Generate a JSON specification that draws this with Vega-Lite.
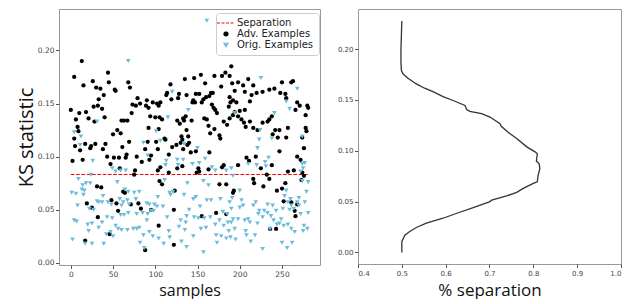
{
"$schema":"https://vega.github.io/schema/vega-lite/v6.json",
"padding":{"left":15,"top":8,"right":0,"bottom":0},
"spacing":15,
"config":{"view":{"stroke":"#999"},"font":"DejaVu Sans",
"axis":{"grid":false,"domain":false,"tickColor":"#555","tickSize":3.5,"labelColor":"#444","labelFont":"DejaVu Sans","labelFontSize":7.5,"labelPadding":1.5,"titleFont":"Open Sans","titleFontWeight":"normal","titleColor":"#111"}},
"datasets":{
"adv":[{"x":13,"y":0.190},{"x":4,"y":0.175},{"x":44,"y":0.179},{"x":15,"y":0.167},{"x":26,"y":0.171},{"x":30,"y":0.165},{"x":35,"y":0.164},{"x":45,"y":0.170},{"x":39,"y":0.158},{"x":52,"y":0.163},{"x":53,"y":0.162},{"x":68,"y":0.170},{"x":70,"y":0.165},{"x":33,"y":0.154},{"x":27,"y":0.147},{"x":32,"y":0.148},{"x":37,"y":0.145},{"x":0,"y":0.144},{"x":10,"y":0.141},{"x":18,"y":0.142},{"x":21,"y":0.136},{"x":6,"y":0.135},{"x":28,"y":0.133},{"x":40,"y":0.137},{"x":60,"y":0.134},{"x":63,"y":0.134},{"x":67,"y":0.134},{"x":72,"y":0.141},{"x":77,"y":0.148},{"x":82,"y":0.150},{"x":79,"y":0.155},{"x":73,"y":0.149},{"x":90,"y":0.153},{"x":89,"y":0.148},{"x":8,"y":0.128},{"x":9,"y":0.124},{"x":4,"y":0.117},{"x":55,"y":0.125},{"x":50,"y":0.121},{"x":59,"y":0.122},{"x":5,"y":0.110},{"x":11,"y":0.106},{"x":17,"y":0.112},{"x":23,"y":0.108},{"x":24,"y":0.110},{"x":29,"y":0.112},{"x":38,"y":0.107},{"x":41,"y":0.112},{"x":61,"y":0.109},{"x":69,"y":0.114},{"x":91,"y":0.114},{"x":88,"y":0.107},
{"x":2,"y":0.096},{"x":14,"y":0.097},{"x":43,"y":0.100},{"x":51,"y":0.099},{"x":57,"y":0.099},{"x":66,"y":0.102},{"x":65,"y":0.099},{"x":78,"y":0.100},{"x":84,"y":0.095},{"x":47,"y":0.093},{"x":58,"y":0.089},{"x":76,"y":0.087},{"x":75,"y":0.083},{"x":31,"y":0.072},{"x":36,"y":0.071},{"x":62,"y":0.067},{"x":64,"y":0.066},{"x":19,"y":0.056},{"x":48,"y":0.059},{"x":25,"y":0.052},{"x":54,"y":0.056},{"x":56,"y":0.049},{"x":71,"y":0.055},{"x":80,"y":0.056},{"x":83,"y":0.051},{"x":32,"y":0.043},{"x":46,"y":0.027},{"x":17,"y":0.021},{"x":88,"y":0.012},
{"x":190,"y":0.185},{"x":183,"y":0.179},{"x":179,"y":0.176},{"x":170,"y":0.176},{"x":188,"y":0.176},{"x":154,"y":0.177},{"x":146,"y":0.174},{"x":135,"y":0.173},{"x":159,"y":0.169},{"x":178,"y":0.166},{"x":191,"y":0.169},{"x":118,"y":0.168},{"x":114,"y":0.160},{"x":113,"y":0.158},{"x":128,"y":0.159},{"x":127,"y":0.155},{"x":137,"y":0.158},{"x":119,"y":0.154},{"x":148,"y":0.159},{"x":152,"y":0.159},{"x":145,"y":0.153},{"x":144,"y":0.151},{"x":160,"y":0.156},{"x":157,"y":0.154},{"x":166,"y":0.160},{"x":168,"y":0.160},{"x":164,"y":0.157},{"x":155,"y":0.151},{"x":147,"y":0.151},{"x":97,"y":0.151},{"x":102,"y":0.150},{"x":104,"y":0.148},{"x":92,"y":0.146},{"x":106,"y":0.151},{"x":167,"y":0.149},{"x":169,"y":0.146},{"x":171,"y":0.144},{"x":173,"y":0.141},{"x":189,"y":0.151},{"x":187,"y":0.147},{"x":136,"y":0.138},{"x":133,"y":0.136},{"x":134,"y":0.134},{"x":143,"y":0.134},{"x":126,"y":0.134},{"x":129,"y":0.131},{"x":158,"y":0.136},{"x":161,"y":0.135},{"x":94,"y":0.138},{"x":100,"y":0.137},{"x":105,"y":0.137},{"x":108,"y":0.135},{"x":104,"y":0.126},{"x":92,"y":0.127},{"x":181,"y":0.133},{"x":185,"y":0.130},{"x":188,"y":0.136},{"x":192,"y":0.139},{"x":163,"y":0.129},{"x":170,"y":0.126},{"x":176,"y":0.120},{"x":177,"y":0.117},{"x":165,"y":0.122},{"x":137,"y":0.125},{"x":131,"y":0.119},{"x":132,"y":0.116},{"x":139,"y":0.119},{"x":138,"y":0.111},{"x":140,"y":0.113},{"x":111,"y":0.117},{"x":112,"y":0.116},{"x":125,"y":0.111},{"x":120,"y":0.109},{"x":130,"y":0.113},{"x":101,"y":0.114},{"x":103,"y":0.107},{"x":142,"y":0.104},{"x":133,"y":0.107},
{"x":95,"y":0.101},{"x":93,"y":0.097},{"x":116,"y":0.102},{"x":148,"y":0.105},{"x":164,"y":0.104},{"x":106,"y":0.090},{"x":103,"y":0.087},{"x":116,"y":0.085},{"x":126,"y":0.089},{"x":132,"y":0.091},{"x":151,"y":0.089},{"x":152,"y":0.086},{"x":149,"y":0.085},{"x":163,"y":0.088},{"x":181,"y":0.092},{"x":179,"y":0.090},{"x":105,"y":0.077},{"x":108,"y":0.074},{"x":123,"y":0.068},{"x":176,"y":0.074},{"x":184,"y":0.074},{"x":192,"y":0.066},{"x":95,"y":0.050},{"x":122,"y":0.050},{"x":155,"y":0.044},{"x":172,"y":0.047},{"x":184,"y":0.046},{"x":104,"y":0.035},{"x":122,"y":0.017},
{"x":210,"y":0.173},{"x":198,"y":0.170},{"x":204,"y":0.167},{"x":206,"y":0.161},{"x":194,"y":0.162},{"x":188,"y":0.156},{"x":192,"y":0.153},{"x":196,"y":0.151},{"x":216,"y":0.167},{"x":220,"y":0.160},{"x":214,"y":0.158},{"x":212,"y":0.152},{"x":227,"y":0.161},{"x":235,"y":0.163},{"x":241,"y":0.164},{"x":250,"y":0.170},{"x":261,"y":0.170},{"x":263,"y":0.171},{"x":248,"y":0.160},{"x":255,"y":0.155},{"x":254,"y":0.159},{"x":268,"y":0.151},{"x":271,"y":0.148},{"x":280,"y":0.148},{"x":281,"y":0.146},{"x":278,"y":0.139},{"x":266,"y":0.144},{"x":194,"y":0.142},{"x":200,"y":0.143},{"x":206,"y":0.144},{"x":198,"y":0.138},{"x":202,"y":0.135},{"x":205,"y":0.132},{"x":207,"y":0.128},{"x":212,"y":0.133},{"x":216,"y":0.127},{"x":221,"y":0.125},{"x":227,"y":0.132},{"x":233,"y":0.133},{"x":235,"y":0.135},{"x":238,"y":0.138},{"x":242,"y":0.125},{"x":247,"y":0.125},{"x":239,"y":0.121},{"x":245,"y":0.118},{"x":257,"y":0.127},{"x":255,"y":0.118},{"x":247,"y":0.105},{"x":278,"y":0.127},{"x":279,"y":0.124},{"x":274,"y":0.118},{"x":276,"y":0.108},
{"x":208,"y":0.099},{"x":211,"y":0.096},{"x":219,"y":0.100},{"x":198,"y":0.092},{"x":225,"y":0.089},{"x":238,"y":0.092},{"x":268,"y":0.100},{"x":272,"y":0.097},{"x":232,"y":0.083},{"x":235,"y":0.079},{"x":216,"y":0.079},{"x":217,"y":0.075},{"x":228,"y":0.072},{"x":257,"y":0.086},{"x":264,"y":0.087},{"x":274,"y":0.085},{"x":276,"y":0.082},{"x":273,"y":0.078},{"x":254,"y":0.075},{"x":250,"y":0.070},{"x":244,"y":0.068},{"x":193,"y":0.068},{"x":252,"y":0.058},{"x":261,"y":0.057},{"x":268,"y":0.055},{"x":265,"y":0.049},{"x":266,"y":0.044},{"x":236,"y":0.032},{"x":243,"y":0.032}],
"orig":[{"x":161,"y":0.228},{"x":68,"y":0.190},{"x":31,"y":0.133},{"x":4,"y":0.123},{"x":12,"y":0.119},{"x":11,"y":0.111},{"x":86,"y":0.113},
{"x":26,"y":0.096},{"x":49,"y":0.089},{"x":53,"y":0.086},{"x":59,"y":0.087},{"x":65,"y":0.087},{"x":24,"y":0.083},{"x":9,"y":0.079},{"x":55,"y":0.076},{"x":23,"y":0.075},{"x":18,"y":0.075},{"x":14,"y":0.073},{"x":13,"y":0.069},{"x":16,"y":0.068},{"x":15,"y":0.064},{"x":1,"y":0.066},{"x":6,"y":0.065},{"x":38,"y":0.063},{"x":64,"y":0.069},{"x":68,"y":0.067},{"x":75,"y":0.066},{"x":81,"y":0.067},{"x":77,"y":0.060},{"x":31,"y":0.058},{"x":33,"y":0.057},{"x":37,"y":0.057},{"x":44,"y":0.057},{"x":48,"y":0.055},{"x":58,"y":0.060},{"x":62,"y":0.057},{"x":60,"y":0.054},{"x":67,"y":0.059},{"x":69,"y":0.055},{"x":8,"y":0.054},{"x":22,"y":0.051},{"x":27,"y":0.050},{"x":43,"y":0.043},{"x":49,"y":0.042},{"x":59,"y":0.045},{"x":63,"y":0.045},{"x":68,"y":0.047},{"x":78,"y":0.046},{"x":85,"y":0.047},{"x":4,"y":0.040},{"x":7,"y":0.039},{"x":20,"y":0.036},{"x":25,"y":0.037},{"x":21,"y":0.030},{"x":37,"y":0.038},{"x":33,"y":0.033},{"x":53,"y":0.035},{"x":60,"y":0.031},{"x":67,"y":0.031},{"x":74,"y":0.032},{"x":78,"y":0.032},{"x":81,"y":0.033},{"x":56,"y":0.032},{"x":50,"y":0.025},{"x":42,"y":0.027},{"x":47,"y":0.029},{"x":2,"y":0.022},{"x":17,"y":0.018},{"x":25,"y":0.018},{"x":39,"y":0.018},{"x":82,"y":0.019},{"x":87,"y":0.014},{"x":86,"y":0.026},
{"x":120,"y":0.161},{"x":139,"y":0.144},{"x":115,"y":0.137},{"x":101,"y":0.124},{"x":106,"y":0.115},{"x":134,"y":0.112},{"x":150,"y":0.108},
{"x":91,"y":0.101},{"x":113,"y":0.096},{"x":126,"y":0.097},{"x":133,"y":0.097},{"x":159,"y":0.098},{"x":112,"y":0.092},{"x":127,"y":0.092},{"x":144,"y":0.093},{"x":152,"y":0.094},{"x":167,"y":0.090},{"x":171,"y":0.087},{"x":184,"y":0.087},{"x":190,"y":0.089},{"x":111,"y":0.078},{"x":138,"y":0.075},{"x":157,"y":0.077},{"x":163,"y":0.073},{"x":117,"y":0.066},{"x":121,"y":0.067},{"x":134,"y":0.064},{"x":148,"y":0.062},{"x":145,"y":0.060},{"x":161,"y":0.059},{"x":166,"y":0.059},{"x":177,"y":0.060},{"x":191,"y":0.061},{"x":103,"y":0.062},{"x":118,"y":0.064},{"x":90,"y":0.056},{"x":93,"y":0.055},{"x":99,"y":0.055},{"x":102,"y":0.053},{"x":109,"y":0.053},{"x":98,"y":0.049},{"x":95,"y":0.049},{"x":91,"y":0.046},{"x":90,"y":0.040},{"x":140,"y":0.050},{"x":153,"y":0.053},{"x":146,"y":0.043},{"x":151,"y":0.042},{"x":158,"y":0.042},{"x":165,"y":0.043},{"x":180,"y":0.048},{"x":185,"y":0.046},{"x":176,"y":0.040},{"x":186,"y":0.038},{"x":190,"y":0.038},{"x":181,"y":0.035},{"x":171,"y":0.036},{"x":137,"y":0.044},{"x":130,"y":0.040},{"x":114,"y":0.043},{"x":136,"y":0.038},{"x":154,"y":0.032},{"x":160,"y":0.033},{"x":128,"y":0.034},{"x":135,"y":0.031},{"x":93,"y":0.029},{"x":97,"y":0.025},{"x":104,"y":0.023},{"x":110,"y":0.018},{"x":116,"y":0.030},{"x":117,"y":0.024},{"x":131,"y":0.020},{"x":137,"y":0.015},{"x":145,"y":0.025},{"x":172,"y":0.026},{"x":178,"y":0.025},{"x":184,"y":0.023},{"x":189,"y":0.024},{"x":173,"y":0.019},{"x":157,"y":0.010},
{"x":225,"y":0.174},{"x":268,"y":0.164},{"x":255,"y":0.152},{"x":259,"y":0.145},{"x":194,"y":0.141},{"x":241,"y":0.141},{"x":224,"y":0.125},{"x":223,"y":0.116},{"x":238,"y":0.117},{"x":274,"y":0.119},{"x":221,"y":0.108},
{"x":234,"y":0.099},{"x":230,"y":0.095},{"x":220,"y":0.092},{"x":210,"y":0.093},{"x":192,"y":0.082},{"x":200,"y":0.068},{"x":231,"y":0.091},{"x":274,"y":0.093},{"x":277,"y":0.094},{"x":275,"y":0.089},{"x":272,"y":0.086},{"x":274,"y":0.077},{"x":281,"y":0.076},{"x":279,"y":0.067},{"x":270,"y":0.061},{"x":277,"y":0.057},{"x":281,"y":0.047},{"x":255,"y":0.068},{"x":253,"y":0.063},{"x":260,"y":0.060},{"x":257,"y":0.057},{"x":261,"y":0.054},{"x":259,"y":0.050},{"x":264,"y":0.051},{"x":268,"y":0.057},{"x":270,"y":0.054},{"x":272,"y":0.046},{"x":276,"y":0.035},{"x":280,"y":0.032},
{"x":188,"y":0.057},{"x":190,"y":0.051},{"x":202,"y":0.059},{"x":204,"y":0.054},{"x":200,"y":0.052},{"x":216,"y":0.054},{"x":219,"y":0.057},{"x":223,"y":0.049},{"x":229,"y":0.049},{"x":233,"y":0.047},{"x":233,"y":0.055},{"x":222,"y":0.046},{"x":227,"y":0.043},{"x":237,"y":0.044},{"x":239,"y":0.054},{"x":243,"y":0.049},{"x":251,"y":0.051},{"x":249,"y":0.041},{"x":192,"y":0.041},{"x":198,"y":0.041},{"x":206,"y":0.040},{"x":210,"y":0.041},{"x":212,"y":0.038},{"x":221,"y":0.037},{"x":194,"y":0.032},{"x":207,"y":0.030},{"x":208,"y":0.026},{"x":218,"y":0.026},{"x":240,"y":0.040},{"x":244,"y":0.036},{"x":247,"y":0.037},{"x":252,"y":0.035},{"x":257,"y":0.036},{"x":261,"y":0.032},{"x":265,"y":0.029},{"x":275,"y":0.030},{"x":187,"y":0.030},{"x":195,"y":0.022},{"x":213,"y":0.020},{"x":227,"y":0.013},{"x":250,"y":0.019},{"x":262,"y":0.019},{"x":256,"y":0.014},{"x":236,"y":0.032}],
"sep":[{"x1":0,"x2":281,"y":0.0832}],
"curve":[{"ks":0,"sep":0.500},{"ks":0.0108,"sep":0.500},{"ks":0.017,"sep":0.507},{"ks":0.0206,"sep":0.518},{"ks":0.0245,"sep":0.533},{"ks":0.0287,"sep":0.556},{"ks":0.0336,"sep":0.594},{"ks":0.0395,"sep":0.632},{"ks":0.044,"sep":0.663},{"ks":0.050,"sep":0.701},{"ks":0.0515,"sep":0.705},{"ks":0.0555,"sep":0.739},{"ks":0.059,"sep":0.762},{"ks":0.063,"sep":0.777},{"ks":0.0679,"sep":0.800},{"ks":0.0695,"sep":0.809},{"ks":0.076,"sep":0.811},{"ks":0.0825,"sep":0.815},{"ks":0.0874,"sep":0.813},{"ks":0.0897,"sep":0.807},{"ks":0.097,"sep":0.809},{"ks":0.0989,"sep":0.804},{"ks":0.1038,"sep":0.785},{"ks":0.112,"sep":0.762},{"ks":0.118,"sep":0.743},{"ks":0.124,"sep":0.727},{"ks":0.1266,"sep":0.724},{"ks":0.1331,"sep":0.701},{"ks":0.1364,"sep":0.682},{"ks":0.1387,"sep":0.655},{"ks":0.1406,"sep":0.648},{"ks":0.1445,"sep":0.644},{"ks":0.1494,"sep":0.617},{"ks":0.1533,"sep":0.594},{"ks":0.1582,"sep":0.571},{"ks":0.1615,"sep":0.552},{"ks":0.1657,"sep":0.533},{"ks":0.1713,"sep":0.514},{"ks":0.1755,"sep":0.503},{"ks":0.1788,"sep":0.499},{"ks":0.187,"sep":0.498},{"ks":0.200,"sep":0.498},{"ks":0.2277,"sep":0.500}]
},
"hconcat":[
{"width":261,"height":256,
"encoding":{
"x":{"type":"quantitative","scale":{"domain":[-14,295],"nice":false,"zero":false},"axis":{"values":[0,50,100,150,200,250],"title":"samples","titleFontSize":16,"titlePadding":4.5}},
"y":{"type":"quantitative","scale":{"domain":[-0.002,0.239],"nice":false,"zero":false},"axis":{"values":[0,0.05,0.1,0.15,0.2],"format":".2f","title":"KS statistic","titleFontSize":20,"titlePadding":1}}
},
"layer":[
{"data":{"name":"sep"},"mark":{"type":"rule","strokeDash":[3.7,1.6],"strokeWidth":1},
"encoding":{"x":{"field":"x1"},"x2":{"field":"x2"},"y":{"field":"y"},
"color":{"datum":"Separation","type":"nominal","scale":{"domain":["Separation","Adv. Examples","Orig. Examples"],"range":["red","black","#6cbcd9"]},
"legend":{"title":null,"orient":"none","legendX":157,"legendY":4,"padding":5,"strokeColor":"#ccc","cornerRadius":3,"fillColor":"white","labelFont":"DejaVu Sans","labelFontSize":10,"labelColor":"#222","rowPadding":1,"labelOffset":6,
"encode":{"symbols":{"update":{"stroke":{"signal":"datum.value === 'Separation' ? 'red' : 'transparent'"},"strokeDash":{"signal":"datum.value === 'Separation' ? [3,1.5] : [1,0]"},"strokeWidth":{"value":1.2},"size":{"signal":"datum.value === 'Separation' ? 324 : 16"}}}}}}}},
{"data":{"name":"adv"},"mark":{"type":"point","filled":true,"size":18,"opacity":1},
"encoding":{"x":{"field":"x"},"y":{"field":"y"},
"color":{"datum":"Adv. Examples","type":"nominal"},
"shape":{"datum":"Adv. Examples","type":"nominal","scale":{"domain":["Separation","Adv. Examples","Orig. Examples"],"range":["stroke","circle","triangle-down"]}}}},
{"data":{"name":"orig"},"mark":{"type":"point","filled":true,"size":22,"opacity":1},
"encoding":{"x":{"field":"x"},"y":{"field":"y"},
"color":{"datum":"Orig. Examples","type":"nominal"},
"shape":{"datum":"Orig. Examples","type":"nominal"}}}
]},
{"width":263,"height":255,"data":{"name":"curve"},
"mark":{"type":"line","color":"#333","strokeWidth":1.3},
"encoding":{
"x":{"field":"sep","type":"quantitative","scale":{"domain":[0.4,1.0],"nice":false,"zero":false},"axis":{"values":[0.4,0.5,0.6,0.7,0.8,0.9,1.0],"format":".1f","labelFontSize":7,"title":"% separation","titleFontSize":17,"titlePadding":6}},
"y":{"field":"ks","type":"quantitative","scale":{"domain":[-0.0114,0.2394],"nice":false,"zero":false},"axis":{"values":[0,0.05,0.1,0.15,0.2],"format":".2f","labelFontSize":7,"title":null}},
"order":{"field":"ks","type":"quantitative"}
}}
]
}
